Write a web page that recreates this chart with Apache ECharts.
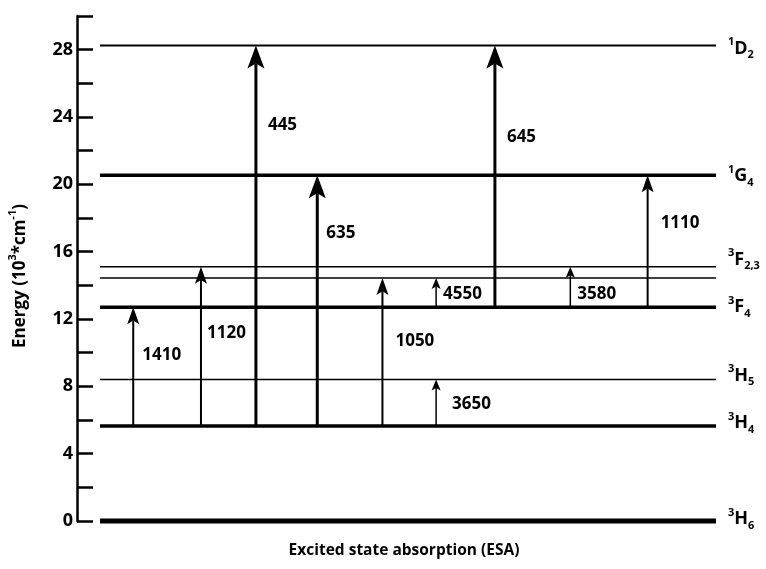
<!DOCTYPE html>
<html>
<head>
<meta charset="utf-8">
<script src="https://cdn.jsdelivr.net/npm/echarts@6/dist/echarts.min.js"></script>
<style>
  html, body { margin: 0; padding: 0; background: #fff; }
  #chart { width: 766px; height: 569px; }
</style>
</head>
<body>
<div id="chart"></div>
<script>
// Tm3+ energy levels, in 10^3 cm^-1
const levelNames  = ['3H6', '3H4', '3H5', '3F4', '3F3', '3F2', '1G4', '1D2'];
const levelEnergy = [0, 5.65, 8.41, 12.7, 14.44, 15.11, 20.54, 28.25];

// Term symbols written at the right end of the level lines (3F3/3F2 share one tag)
const levelSup  = ['3', '3', '3', '3', '', '3', '1', '1'];
const levelTerm = ['H', 'H', 'H', 'F', '', 'F', 'G', 'D'];
const levelSub  = ['6', '4', '5', '4', '', '2,3', '4', '2'];

// Excited state absorption transitions: wavelength (nm), lower level, upper level
const transLabels = ['1410', '1120', '445', '635', '1050', '3650', '4550', '645', '3580', '1110'];
const transFrom   = ['3H4', '3H4', '3H4', '3H4', '3H4', '3H4', '3F4', '3F4', '3F4', '3F4'];
const transTo     = ['3F4', '3F2', '1D2', '1G4', '3F3', '3H5', '3F3', '1D2', '3F2', '1G4'];
// horizontal slot of each transition along the (hidden) x scale, 0..100
const transSlot   = [8.8, 19.4, 28.0, 37.6, 47.8, 56.2, 56.2, 65.4, 77.2, 89.3];

// Y axis ticks (labels every 4, minor ticks every 2)
const yMin = 0, yMax = 30, yStep = 2, yLabelEvery = 4;

// ---- styling / layout (kept apart from the values) ----
const FONT = '"Open Sans", "Noto Sans", sans-serif';
const levelWidth   = [5, 3.5, 1.5, 3.5, 1.5, 1.5, 3.5, 2];
const levelTagDy   = [-2, -3, -4, 0, 0, -7, 1, 3];
const levelXFrom = 3.6, levelXTo = 100;

const arrowKinds = {
  thick:  { lw: 3,   head: 23, hw: 17 },
  medium: { lw: 2,   head: 17, hw: 12 },
  thin:   { lw: 1.5, head: 11, hw: 9 }
};
const transKind  = ['medium', 'medium', 'thick', 'thick', 'medium', 'thin', 'thin', 'thick', 'thin', 'medium'];
const labelAlong = [0.6, 0.58, 0.79, 0.77, 0.57, 0.47, 0.45, 0.65, 0.33, 0.64];
const labelDx    = [9, 6, 12, 9, 13, 16, 7, 12, 7, 13];

const energyOf = name => levelEnergy[levelNames.indexOf(name)];

const levelData = levelEnergy.map((e, i) => [levelXFrom, e, levelXTo, i]);
const transData = transLabels.map((t, i) => [transSlot[i], energyOf(transFrom[i]), energyOf(transTo[i]), i]);

function renderLevel(params, api) {
  const i = api.value(3);
  const a = api.coord([api.value(0), api.value(1)]);
  const b = api.coord([api.value(2), api.value(1)]);
  const children = [{
    type: 'line',
    shape: { x1: a[0], y1: a[1], x2: b[0], y2: b[1] },
    style: { stroke: '#000', lineWidth: levelWidth[i] }
  }];
  if (levelTerm[i]) {
    children.push({
      type: 'text',
      x: b[0] + 12,
      y: b[1] + levelTagDy[i],
      style: {
        text: '{p|' + levelSup[i] + '}{m|' + levelTerm[i] + '}{b|' + levelSub[i] + '}',
        verticalAlign: 'middle',
        align: 'left',
        fill: '#000',
        rich: {
          p: { fontFamily: FONT, fontWeight: 'bold', fontSize: 11, verticalAlign: 'top', lineHeight: 24 },
          m: { fontFamily: FONT, fontWeight: 'bold', fontSize: 18, lineHeight: 24 },
          b: { fontFamily: FONT, fontWeight: 'bold', fontSize: 11, verticalAlign: 'bottom', lineHeight: 24 }
        }
      }
    });
  }
  return { type: 'group', children };
}

function renderArrow(params, api) {
  const i = api.value(3);
  const k = arrowKinds[transKind[i]];
  const p0 = api.coord([api.value(0), api.value(1)]);
  const p1 = api.coord([api.value(0), api.value(2)]);
  const x = p0[0];
  const tip = p1[1];
  const base = tip + k.head;
  const notch = k.head * 0.22;
  const ly = p0[1] + (p1[1] - p0[1]) * labelAlong[i];
  return {
    type: 'group',
    children: [
      {
        type: 'line',
        shape: { x1: x, y1: p0[1], x2: x, y2: base - notch },
        style: { stroke: '#000', lineWidth: k.lw }
      },
      {
        type: 'polygon',
        shape: { points: [[x, tip], [x + k.hw / 2, base], [x, base - notch], [x - k.hw / 2, base]] },
        style: { fill: '#000' }
      },
      {
        type: 'text',
        x: x + labelDx[i],
        y: ly,
        style: {
          text: transLabels[i],
          fontFamily: FONT, fontWeight: 'bold', fontSize: 17,
          fill: '#000', align: 'left', verticalAlign: 'middle'
        }
      }
    ]
  };
}

const chart = echarts.init(document.getElementById('chart'), null, { renderer: 'canvas' });
chart.setOption({
  animation: false,
  backgroundColor: '#fff',
  grid: { left: 77, right: 50, top: 16, bottom: 48 },
  xAxis: { type: 'value', min: 0, max: 100, show: false },
  yAxis: {
    type: 'value', min: yMin, max: yMax, interval: yStep,
    axisLine: { show: true, lineStyle: { color: '#000', width: 2.5 } },
    axisTick: { show: true, inside: true, length: 16, lineStyle: { color: '#000', width: 2.5 } },
    axisLabel: {
      formatter: v => (v % yLabelEvery === 0 ? String(v) : ''),
      color: '#000', fontFamily: FONT, fontWeight: 'bold', fontSize: 18, margin: 4
    },
    splitLine: { show: false }
  },
  graphic: [
    {
      // y axis title, rotated
      type: 'text',
      x: 20, y: 276,
      rotation: Math.PI / 2,
      style: {
        text: '{a|Energy (10}{s|3}{a|*cm}{s|-1}{a|)}',
        align: 'center', verticalAlign: 'middle',
        rich: {
          a: { fontFamily: FONT, fontWeight: 'bold', fontSize: 17, fill: '#000', lineHeight: 26 },
          s: { fontFamily: FONT, fontWeight: 'bold', fontSize: 11, fill: '#000', verticalAlign: 'top', lineHeight: 26 }
        }
      }
    },
    {
      type: 'text',
      x: 404, y: 551,
      style: {
        text: 'Excited state absorption (ESA)',
        fontFamily: FONT, fontWeight: 'bold', fontSize: 15.5,
        fill: '#000', align: 'center', verticalAlign: 'middle'
      }
    }
  ],
  series: [
    {
      type: 'custom', name: 'levels',
      coordinateSystem: 'cartesian2d',
      renderItem: renderLevel,
      encode: { x: [0, 2], y: 1 },
      data: levelData,
      clip: false
    },
    {
      type: 'custom', name: 'esa',
      coordinateSystem: 'cartesian2d',
      renderItem: renderArrow,
      encode: { x: 0, y: [1, 2] },
      data: transData,
      clip: false
    }
  ]
});
</script>
</body>
</html>
